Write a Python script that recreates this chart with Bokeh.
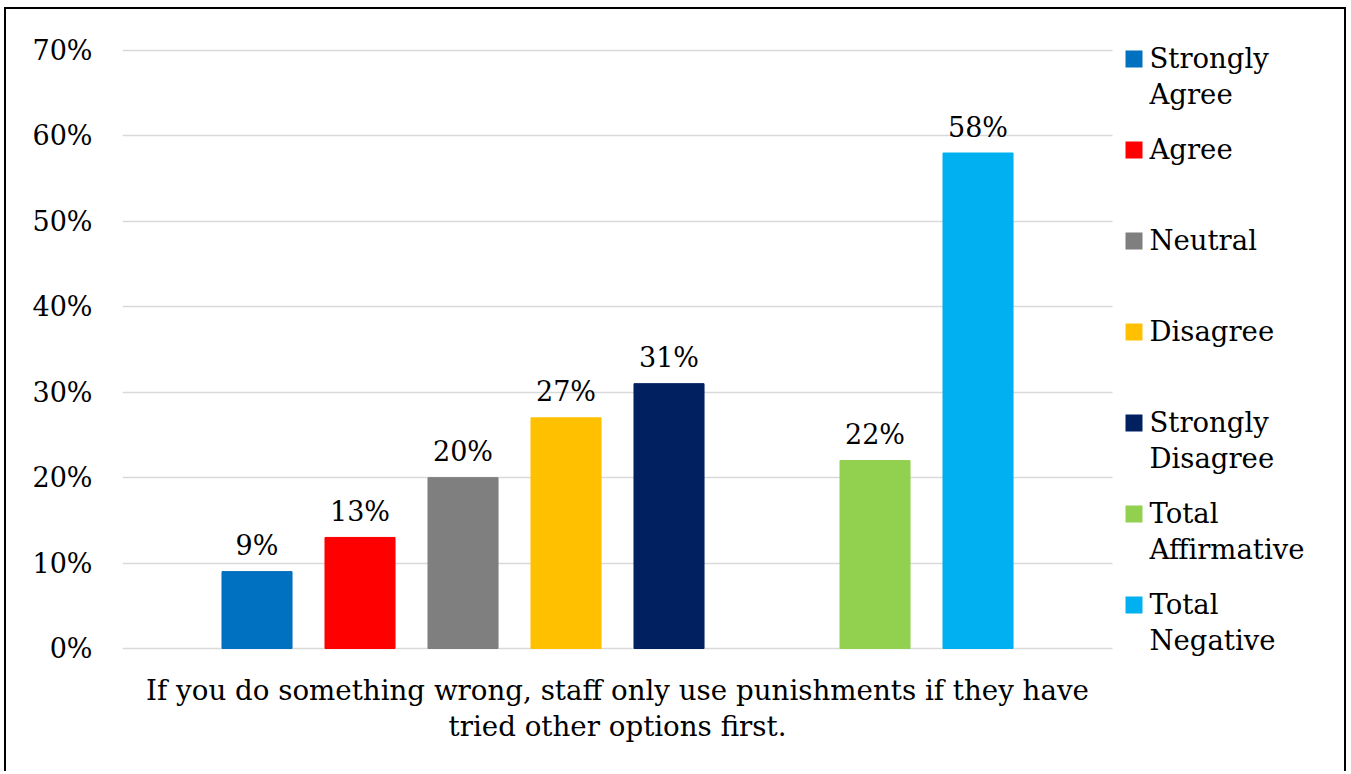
from bokeh.plotting import figure
from bokeh.models import Range1d, NumeralTickFormatter, ColumnDataSource, FixedTicker
from bokeh.embed import file_html
from bokeh.resources import INLINE
from bokeh.core.properties import value

# ---- data ----
series = ["Strongly Agree", "Agree", "Neutral", "Disagree",
          "Strongly Disagree", "Total Affirmative", "Total Negative"]
legend_lines = [["Strongly", "Agree"], ["Agree"], ["Neutral"], ["Disagree"],
                ["Strongly", "Disagree"], ["Total", "Affirmative"], ["Total", "Negative"]]
values = [0.09, 0.13, 0.20, 0.27, 0.31, 0.22, 0.58]
slots = [0, 1, 2, 3, 4, 6, 7]
colors = ["#0070C0", "#FF0000", "#7F7F7F", "#FFC000", "#002060", "#92D050", "#00B0F0"]
y_ticks = [0.0, 0.1, 0.2, 0.3, 0.4, 0.5, 0.6, 0.7]
category_lines = ["If you do something wrong, staff only use punishments if they have",
                  "tried other options first."]

FONT = "DejaVu Serif"

# ---- layout (pixels) ----
W, H = 1342, 764
ML = 116
ORIGIN_X, ORIGIN_Y = 6, 9          # content origin on the page
FRAME_LEFT_PX = ORIGIN_X + ML      # 122
ZERO_PX, TOP_PX = 648, 50          # pixel rows of 0% and 70%
SLOT_PX = 103.0
PX_PER_Y = (ZERO_PX - TOP_PX) / 0.7
LABEL_GAP_PX = 26

x_start = -0.806
x_end = x_start + (W - ML) / SLOT_PX
y_end = 0.7 + (TOP_PX - ORIGIN_Y) / PX_PER_Y
y_start = -((ORIGIN_Y + H) - ZERO_PX) / PX_PER_Y


def px2x(px):
    return x_start + (px - FRAME_LEFT_PX) / SLOT_PX


def px2y(py):
    return 0.7 - (py - TOP_PX) / PX_PER_Y


p = figure(width=W, height=H, output_backend="svg", toolbar_location=None,
           x_range=Range1d(x_start, x_end), y_range=Range1d(y_start, y_end),
           min_border_left=ML, min_border_top=0, min_border_right=0, min_border_bottom=0,
           styles={"border-left": "2px solid black", "border-top": "2px solid black",
                   "border-right": "2px solid black", "margin-left": "4px", "margin-top": "7px"})
p.outline_line_color = None
p.background_fill_color = "white"
p.border_fill_color = "white"

xs = [s + 0.5 for s in slots]
labels = [f"{round(v*100)}%" for v in values]
label_y = [v + LABEL_GAP_PX / PX_PER_Y for v in values]
src = ColumnDataSource(dict(x=xs, top=values, color=colors, label=labels, ly=label_y))
p.vbar(x="x", top="top", bottom=0, width=0.68, color="color", source=src)
p.text(x="x", y="ly", text="label", source=src, text_align="center",
       text_baseline="middle", text_font=value(FONT),
       text_font_size="27px", text_color="#000000")

p.xaxis.visible = False
p.xgrid.visible = False
p.yaxis.ticker = FixedTicker(ticks=y_ticks)
p.yaxis.formatter = NumeralTickFormatter(format="0%")
p.yaxis.axis_line_color = None
p.yaxis.major_tick_line_color = None
p.yaxis.minor_tick_line_color = None
p.yaxis.major_label_standoff = 24
p.yaxis.major_label_text_font = FONT
p.yaxis.major_label_text_font_size = "27px"
p.yaxis.major_label_text_color = "#000000"
p.ygrid.ticker = FixedTicker(ticks=y_ticks)
p.ygrid.grid_line_color = "#D9D9D9"
p.ygrid.grid_line_width = 1.5
p.ygrid.cross_bounds = (x_start, x_start + 990 / SLOT_PX)

# category label below the bars
group_center = (min(slots) + max(slots) + 1) / 2
p.text(x=[group_center] * len(category_lines),
       y=[px2y(690 + 36 * j) for j in range(len(category_lines))],
       text=category_lines, text_align="center", text_baseline="middle",
       text_font=value(FONT), text_font_size="27.7px", text_color="#000000")

# legend
lx, ly, lt = [], [], []
for i, lines in enumerate(legend_lines):
    for j, line in enumerate(lines):
        lx.append(px2x(1149))
        ly.append(px2y(57 + 91 * i + 36 * j))
        lt.append(line)
p.rect(x=[px2x(1133.5)] * len(colors), y=[px2y(58.5 + 91 * i) for i in range(len(colors))],
       width=17, height=17, width_units="screen", height_units="screen",
       fill_color=colors, line_color=None)
p.text(x=lx, y=ly, text=lt, text_align="left", text_baseline="middle",
       text_font=value(FONT), text_font_size="27.5px", text_color="#000000")

open("out.html", "w").write(file_html(p, INLINE))
